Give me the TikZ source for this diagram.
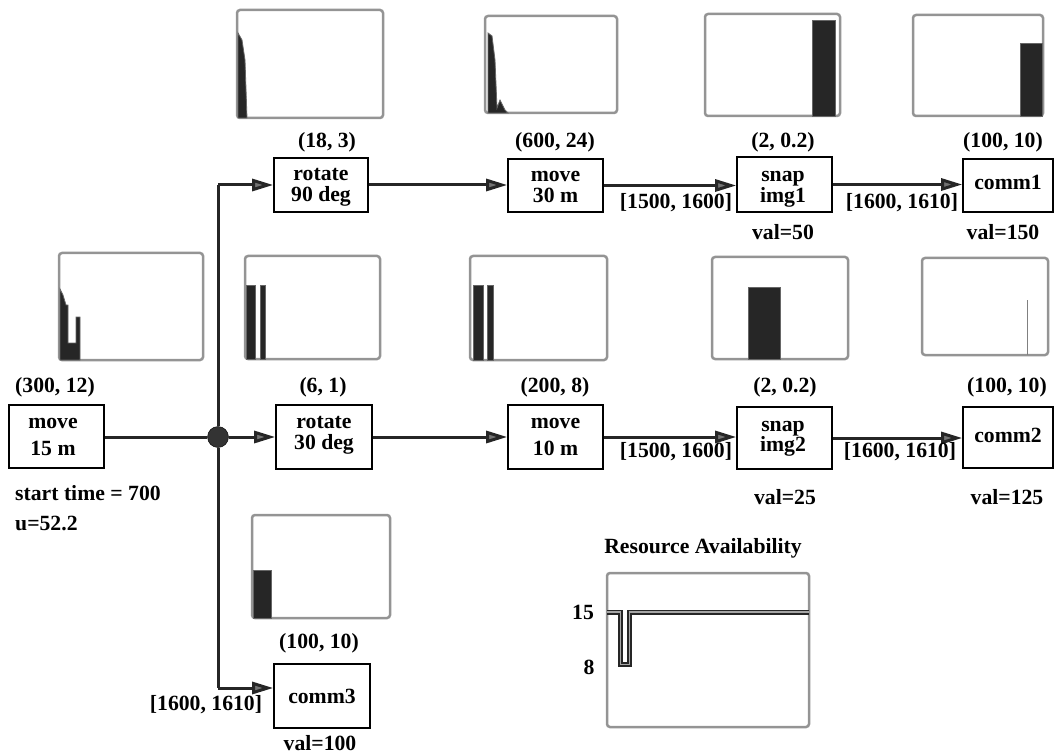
\documentclass[tikz,border=0pt]{standalone}
\usepackage{fontspec}
\setmainfont{Liberation Serif}
\usetikzlibrary{arrows.meta}
\begin{document}
\begin{tikzpicture}[x=1pt,y=-1pt,
  every node/.style={font=\fontsize{21.7}{22}\selectfont\bfseries, inner sep=0pt},
  opbox/.style={draw, line width=1.6pt, minimum width=#1},
  ln/.style={anchor=base, yshift=-5pt},
  lbl/.style={anchor=center},
  conn/.style={line width=3pt, black!85},
  arr/.style={conn, -{Triangle[length=21pt,width=12pt,fill=black!55]}},
  frame/.style={draw=black!42, line width=2.5pt, rounded corners=3pt},
  bar/.style={fill=black!85, draw=black!60, line width=0.8pt}]
\useasboundingbox (0,0) rectangle (1055,754);

% ---------- operation boxes ----------
\node[opbox=95, minimum height=63] (m15) at (56.5,436.5) {};
\node[opbox=94, minimum height=54] (rot90) at (321,185) {};
\node[opbox=95, minimum height=53] (mv30) at (555.5,185.5) {};
\node[opbox=95, minimum height=55] (snap1) at (784.5,184.5) {};
\node[opbox=90, minimum height=53] (comm1) at (1008,185.5) {};
\node[opbox=96, minimum height=64] (rot30) at (324,437) {};
\node[opbox=95, minimum height=64] (mv10) at (555.5,437) {};
\node[opbox=95, minimum height=62] (snap2) at (784.5,438) {};
\node[opbox=90, minimum height=61] (comm2) at (1008,437.5) {};
\node[opbox=96, minimum height=64] (comm3) at (322,696) {};

% ---------- box texts (y = visual middle of the line) ----------
\node[ln] (m15a) at (53,423) {move};
\node[ln] (m15b) at (53,450) {15 m};
\node[ln] (rot90a) at (321,176) {rotate};
\node[ln] (rot90b) at (321,197) {90 deg};
\node[ln] (mv30a) at (555.5,177) {move};
\node[ln] (mv30b) at (555.5,198) {30 m};
\node[ln] (snap1a) at (783,177) {snap};
\node[ln] (snap1b) at (783,198) {img1};
\node[ln] (comm1a) at (1008,185) {comm1};
\node[ln] (rot30a) at (324,423) {rotate};
\node[ln] (rot30b) at (324,444) {30 deg};
\node[ln] (mv10a) at (555.5,423) {move};
\node[ln] (mv10b) at (555.5,450) {10 m};
\node[ln] (snap2a) at (783,426) {snap};
\node[ln] (snap2b) at (783,446) {img2};
\node[ln] (comm2a) at (1008,437) {comm2};
\node[ln] (comm3a) at (322,698) {comm3};

% ---------- connectors ----------
\node[circle, fill=black!80, draw=black, minimum size=21pt] (jn) at (218,437) {};
\coordinate (b1) at (218,185);
\coordinate (b3) at (218,688);
\draw[conn] (m15.east |- jn) -- (jn);
\draw[conn] (b1) -- (jn) -- (b3);
\draw[arr] (b1) -- (rot90.west |- b1);
\draw[arr] (jn) -- (rot30.west |- jn);
\draw[arr] (b3) -- (comm3.west |- b3);
\draw[arr] (rot90.east) -- (mv30.west |- rot90.east);
\draw[arr] (mv30.east) -- (snap1.west |- mv30.east);
\draw[arr] (snap1.east) -- (comm1.west |- snap1.east);
\draw[arr] (rot30.east) -- (mv10.west |- rot30.east);
\draw[arr] (mv10.east) -- (snap2.west |- mv10.east);
\draw[arr] (snap2.east) -- (comm2.west |- snap2.east);

% ---------- labels ----------
\node[lbl] (l1) at (55,387) {(300, 12)};
\node[lbl] (l2) at (327,142) {(18, 3)};
\node[lbl] (l3) at (555,142) {(600, 24)};
\node[lbl] (l4) at (783,142) {(2, 0.2)};
\node[lbl] (l5) at (1003,142) {(100, 10)};
\node[lbl] (l6) at (323,387) {(6, 1)};
\node[lbl] (l7) at (555,387) {(200, 8)};
\node[lbl] (l8) at (785,387) {(2, 0.2)};
\node[lbl] (l9) at (1007,387) {(100, 10)};
\node[lbl] (l10) at (319,643) {(100, 10)};
\node[lbl] (v1) at (783,232) {val=50};
\node[lbl] (v2) at (1003,232) {val=150};
\node[lbl] (v3) at (785,497) {val=25};
\node[lbl] (v4) at (1007,497) {val=125};
\node[lbl] (v5) at (320,743) {val=100};
\node[anchor=west] (st) at (15,493) {start time = 700};
\node[anchor=west] (u) at (15,523) {u=52.2};
\node[lbl] (w1) at (676,203) {[1500, 1600]};
\node[lbl] (w2) at (902,203) {[1600, 1610]};
\node[lbl] (w3) at (676,452) {[1500, 1600]};
\node[lbl] (w4) at (900,452) {[1600, 1610]};
\node[lbl] (w5) at (206,705) {[1600, 1610]};

% ---------- small charts ----------
% move 15 m
\draw[frame] (59,253) rectangle (203,360);
\fill[bar] (60,289) -- (63,295) -- (66,305) -- (68,305) -- (68,343) -- (76,343) -- (76,317) -- (80,317) -- (80,360) -- (60,360) -- cycle;
% rotate 90 deg
\draw[frame] (237,10) rectangle (383,118);
\fill[bar] (238,33) -- (242,40) -- (245,60) -- (247,118) -- (238,118) -- cycle;
% move 30 m
\draw[frame] (485,16) rectangle (617,113);
\fill[bar] (488,33) -- (492,36) -- (495,60) -- (497,108) -- (500,100) -- (505,110) -- (508,113) -- (488,113) -- cycle;
% snap img1
\draw[frame] (705,14) rectangle (840,116);
\fill[bar] (812,20) rectangle (835,116);
% comm1
\draw[frame] (913,15) rectangle (1043,116);
\fill[bar] (1020,43) rectangle (1042,116);
% rotate 30 deg
\draw[frame] (245,256) rectangle (380,359);
\fill[bar] (246,285) rectangle (255,359);
\fill[bar] (260,285) rectangle (265,359);
% move 10 m
\draw[frame] (470,256) rectangle (607,360);
\fill[bar] (473,285) rectangle (483,360);
\fill[bar] (487,285) rectangle (493,360);
% snap img2
\draw[frame] (712,257) rectangle (848,359);
\fill[bar] (748,287) rectangle (780,359);
% comm2
\draw[frame] (922,258) rectangle (1048,355);
\draw[black!50, line width=1pt] (1027,300) -- (1027,355);
% comm3
\draw[frame] (252,515) rectangle (390,618);
\fill[bar] (253,570) rectangle (271,618);

% ---------- resource availability ----------
\node[lbl] (rt) at (703,548) {Resource Availability};
\draw[frame] (607,573) rectangle (809,727);
\draw[line width=5pt, black!85] (607,612) -- (620.5,612) -- (620.5,664.5) -- (629.5,664.5) -- (629.5,612) -- (809,612);
\draw[line width=1.2pt, black!35] (607,612) -- (620.5,612) -- (620.5,664.5) -- (629.5,664.5) -- (629.5,612) -- (809,612);
\node[lbl] (y15) at (583,612) {15};
\node[lbl] (y8) at (589,667) {8};
\end{tikzpicture}
\end{document}
